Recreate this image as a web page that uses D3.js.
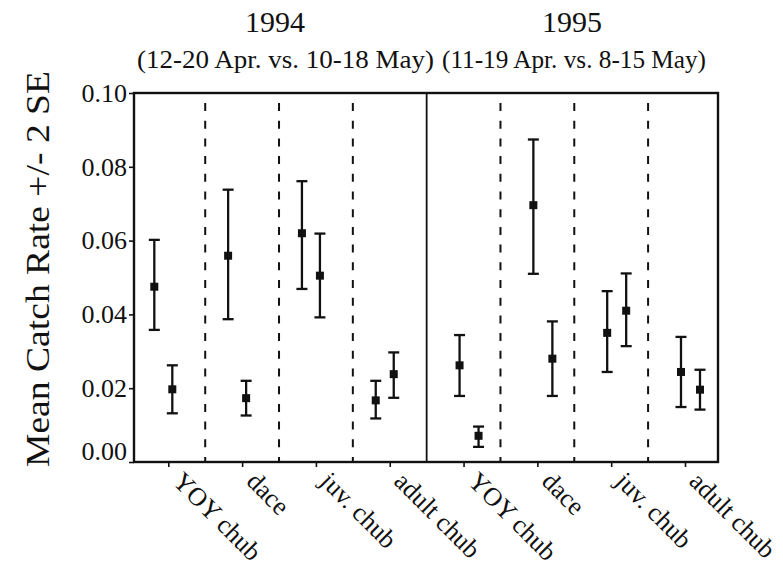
<!DOCTYPE html>
<html>
<head>
<meta charset="utf-8">
<script src="https://cdn.jsdelivr.net/npm/d3@7"></script>
<style>
  body { margin: 0; background: #fff; }
  svg { display: block; }
  text { font-family: "Liberation Serif", "Times New Roman", serif; fill: #111; }
</style>
</head>
<body>
<svg id="vis-catch" width="783" height="573"></svg>
<script>
// chart values
const years   = ['1994', '1995'];
const periods = ['(12-20 Apr. vs. 10-18 May)', '(11-19 Apr. vs. 8-15 May)'];
const groups  = ['YOY chub', 'dace', 'juv. chub', 'adult chub'];
const yTicks  = [0, 0.02, 0.04, 0.06, 0.08, 0.10];

// April sample (first mark in each group), 1994 then 1995
const earlyMean = [0.0475, 0.0559, 0.0620, 0.0167, 0.0262, 0.0696, 0.0350, 0.0244];
const earlyLow  = [0.0358, 0.0387, 0.0469, 0.0118, 0.0179, 0.0510, 0.0244, 0.0149];
const earlyHigh = [0.0602, 0.0738, 0.0761, 0.0220, 0.0344, 0.0874, 0.0463, 0.0339];

// May sample (second mark in each group)
const lateMean = [0.0197, 0.0173, 0.0505, 0.0238, 0.0071, 0.0280, 0.0410, 0.0196];
const lateLow  = [0.0132, 0.0126, 0.0392, 0.0174, 0.0041, 0.0179, 0.0314, 0.0142];
const lateHigh = [0.0262, 0.0220, 0.0619, 0.0297, 0.0096, 0.0381, 0.0511, 0.0250];

const catch_ = {

    dims : {
        left : 134,
        right : 718,
        top : 93,
        bottom : 462
    },

    scales : {
        x : d3.scaleLinear().domain([0, 8]).range([131.4, 721.9]),
        y : d3.scaleLinear().domain([0, 0.10]).range([462, 93])
    },

    // pixel shift of the two marks from the group centre, per year panel
    shift : [[-14, 4], [-4, 15]],

    render : {

        frame : function(svg) {

            const d = catch_.dims;
            const x = catch_.scales.x;
            const g = svg.append('g');

            // dashed group separators
            g.selectAll('line.sep')
                .data(d3.range(1, 8).filter(k => k !== 4))
                .join('line')
                .attr('class', 'sep')
                .attr('x1', k => x(k)).attr('x2', k => x(k))
                .attr('y1', 103).attr('y2', d.bottom)
                .attr('stroke', '#111')
                .attr('stroke-width', 2)
                .attr('stroke-dasharray', '8,9.7');

            // solid year divider
            g.append('line')
                .attr('x1', x(4)).attr('x2', x(4))
                .attr('y1', d.top).attr('y2', d.bottom)
                .attr('stroke', '#111')
                .attr('stroke-width', 1.8);

            g.append('rect')
                .attr('x', d.left).attr('y', d.top)
                .attr('width', d.right - d.left)
                .attr('height', d.bottom - d.top)
                .attr('fill', 'none')
                .attr('stroke', '#111')
                .attr('stroke-width', 2.4);
        },

        axes : function(svg) {

            const d = catch_.dims;
            const x = catch_.scales.x;
            const y = catch_.scales.y;

            const ya = svg.append('g')
                .attr('transform', `translate(${d.left},0)`)
                .call(d3.axisLeft(y)
                    .tickValues(yTicks)
                    .tickFormat(d3.format('.2f'))
                    .tickSize(5)
                    .tickPadding(2));
            ya.select('.domain').remove();
            ya.selectAll('line').attr('stroke', '#111').attr('stroke-width', 1.6);
            ya.selectAll('text')
                .style('font-family', '"Liberation Serif", serif')
                .attr('font-size', 26)
                .attr('fill', '#111')
                .attr('dy', v => v === 0 ? '-0.1em' : '0.32em');

            const centres = d3.range(8).map(i => i + 0.5);
            const xa = svg.append('g')
                .attr('transform', `translate(0,${d.bottom})`)
                .call(d3.axisBottom(x)
                    .tickValues(centres)
                    .tickFormat('')
                    .tickSize(5));
            xa.select('.domain').remove();
            xa.selectAll('line').attr('stroke', '#111').attr('stroke-width', 1.6);

            // rotated group names
            svg.append('g')
                .selectAll('text')
                .data(centres)
                .join('text')
                .attr('transform', c => `translate(${x(c) + 16},${d.bottom + 8}) rotate(45)`)
                .attr('dy', '0.7em')
                .attr('font-size', 26)
                .text((c, i) => groups[i % 4]);
        },

        titles : function(svg) {

            svg.append('g')
                .selectAll('text')
                .data(years)
                .join('text')
                .attr('x', (t, i) => [275, 572][i])
                .attr('y', 32)
                .attr('text-anchor', 'middle')
                .attr('font-size', 30)
                .text(t => t);

            svg.append('g')
                .selectAll('text')
                .data(periods)
                .join('text')
                .attr('x', (t, i) => [137, 442][i])
                .attr('y', 68)
                .attr('font-size', 26)
                .attr('textLength', (t, i) => [297, 264][i])
                .attr('lengthAdjust', 'spacingAndGlyphs')
                .text(t => t);

            svg.append('text')
                .attr('transform', 'translate(49,269) rotate(-90)')
                .attr('text-anchor', 'middle')
                .attr('font-size', 34)
                .attr('textLength', 396)
                .attr('lengthAdjust', 'spacingAndGlyphs')
                .text('Mean Catch Rate +/- 2 SE');
        },

        bars : function(svg) {

            const x = catch_.scales.x;
            const y = catch_.scales.y;

            const rows = [];
            earlyMean.forEach((m, i) => {
                const panel = i < 4 ? 0 : 1;
                const cx = x(i + 0.5);
                rows.push({ x : cx + catch_.shift[panel][0], m : m, lo : earlyLow[i], hi : earlyHigh[i] });
                rows.push({ x : cx + catch_.shift[panel][1], m : lateMean[i], lo : lateLow[i], hi : lateHigh[i] });
            });

            const g = svg.append('g')
                .selectAll('g')
                .data(rows)
                .join('g')
                .attr('stroke', '#111')
                .attr('stroke-width', 2.3);

            g.append('line')
                .attr('x1', r => r.x).attr('x2', r => r.x)
                .attr('y1', r => y(r.lo)).attr('y2', r => y(r.hi));

            g.selectAll('line.cap')
                .data(r => [r.lo, r.hi].map(v => ({ x : r.x, v : v })))
                .join('line')
                .attr('class', 'cap')
                .attr('x1', c => c.x - 5.5).attr('x2', c => c.x + 5.5)
                .attr('y1', c => y(c.v)).attr('y2', c => y(c.v));

            g.append('rect')
                .attr('x', r => r.x - 4).attr('y', r => y(r.m) - 4)
                .attr('width', 8).attr('height', 8)
                .attr('stroke', 'none')
                .attr('fill', '#111');
        }
    },

    init : function() {

        const svg = d3.select('svg#vis-catch');

        catch_.render.frame(svg);
        catch_.render.axes(svg);
        catch_.render.titles(svg);
        catch_.render.bars(svg);
    }
};

catch_.init();
</script>
</body>
</html>
